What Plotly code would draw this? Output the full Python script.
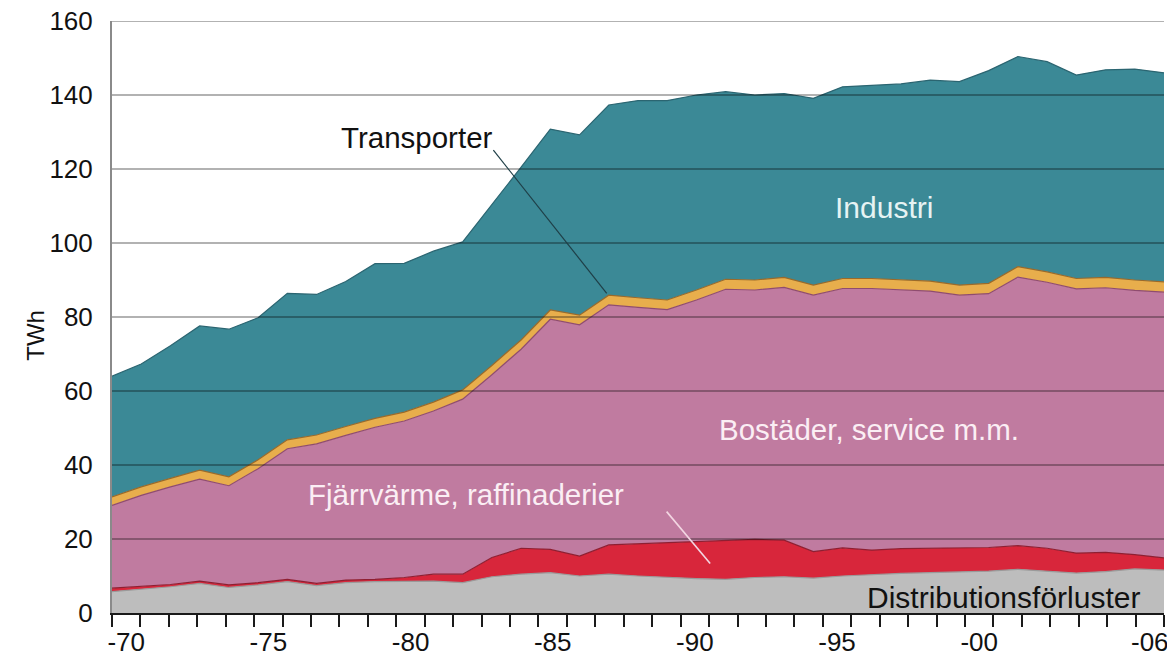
import plotly.graph_objects as go

years = list(range(1970, 2007))

distributionsforluster = [5.8, 6.4, 7.1, 8.0, 6.9, 7.6, 8.5, 7.4, 8.2, 8.5,
                          8.5, 8.6, 8.2, 9.8, 10.5, 10.9, 10.0, 10.5, 10.0, 9.6,
                          9.3, 9.1, 9.6, 9.8, 9.4, 10.0, 10.4, 10.7, 10.9, 11.1,
                          11.3, 11.8, 11.4, 10.8, 11.2, 11.9, 11.6]
fjarrvarme = [0.9, 0.7, 0.6, 0.6, 0.7, 0.6, 0.6, 0.6, 0.7, 0.6,
              1.1, 1.9, 2.3, 5.2, 7.0, 6.3, 5.4, 7.9, 8.7, 9.3,
              10.0, 10.5, 10.3, 9.9, 7.2, 7.6, 6.6, 6.7, 6.6, 6.3,
              6.4, 6.4, 6.1, 5.4, 5.2, 3.9, 3.3]
bostader = [22.4, 24.7, 26.4, 27.6, 26.8, 30.8, 35.3, 37.7, 39.1, 41.1,
            42.3, 44.1, 47.3, 49.4, 53.8, 62.2, 62.5, 64.9, 63.9, 63.1,
            65.3, 67.9, 67.4, 68.3, 69.3, 70.1, 70.7, 69.9, 69.5, 68.5,
            68.6, 72.6, 71.9, 71.4, 71.5, 71.4, 71.8]
transporter = [2.3, 2.3, 2.3, 2.4, 2.4, 2.4, 2.4, 2.4, 2.4, 2.4,
               2.4, 2.4, 2.5, 2.5, 2.5, 2.5, 2.6, 2.6, 2.6, 2.6,
               2.7, 2.7, 2.7, 2.7, 2.7, 2.7, 2.7, 2.7, 2.7, 2.7,
               2.8, 2.8, 2.8, 2.8, 2.8, 2.8, 2.8]
industri = [32.6, 33.2, 35.8, 39.0, 39.9, 38.4, 39.6, 38.0, 39.2, 41.8,
            40.2, 40.8, 40.0, 43.4, 46.7, 48.9, 48.7, 51.4, 53.3, 53.9,
            52.7, 50.7, 50.0, 49.7, 50.5, 51.8, 52.3, 53.0, 54.3, 55.0,
            57.5, 56.8, 56.8, 55.0, 56.1, 57.0, 56.5]

series_names = ["Distributionsförluster", "Fjärrvärme, raffinaderier",
                "Bostäder, service m.m.", "Transporter", "Industri"]
fill_colors = ["#bdbdbd", "#d8263b", "#c07ba0", "#e8ae4c", "#3b8996"]
line_colors = ["#9a9a9a", "#8e1f32", "#8f4c6f", "#9a6a2a", "#2b6571"]

y_ticks = [0, 20, 40, 60, 80, 100, 120, 140, 160]
x_label_years = [1970, 1975, 1980, 1985, 1990, 1995, 2000, 2006]
x_label_text = ["-70", "-75", "-80", "-85", "-90", "-95", "-00", "-06"]

FONT = "Liberation Sans, Arial, Helvetica, sans-serif"

fig = go.Figure()
for name, vals, fc, lc in zip(series_names,
                              [distributionsforluster, fjarrvarme, bostader, transporter, industri],
                              fill_colors, line_colors):
    fig.add_trace(go.Scatter(
        x=years, y=vals, name=name, mode="lines",
        stackgroup="one", fillcolor=fc,
        line=dict(color=lc, width=1.2, shape="linear"),
        hoverinfo="skip",
    ))

# year bins: the 37 years are drawn across the axis, ticks on bin edges
n_bins = len(years)
span = years[-1] - years[0]
edge_vals = [years[0] + k * span / n_bins for k in range(n_bins + 1)]
label_vals = [years[0] + (y - years[0] + 0.5) * span / n_bins for y in x_label_years]

# gridlines drawn above the areas
shapes = []
for v in y_ticks[1:]:
    shapes.append(dict(type="line", xref="paper", yref="y", x0=0, x1=1, y0=v, y1=v,
                       line=dict(color="rgba(0,0,0,0.3)", width=2), layer="above"))

# leader lines for labels
shapes.append(dict(type="line", xref="x", yref="y", x0=1983.05, y0=125.1, x1=1986.93, y1=86.4,
                   line=dict(color="#1f3f47", width=1.2), layer="above"))
shapes.append(dict(type="line", xref="x", yref="y", x0=1988.98, y0=27.4, x1=1990.47, y1=13.4,
                   line=dict(color="#f3d6e2", width=1.6), layer="above"))

annotations = [
    dict(text="Transporter", x=1980.44, y=128.6, xref="x", yref="y", showarrow=False,
         font=dict(family=FONT, size=29.5, color="#111111")),
    dict(text="Industri", x=1996.42, y=109.5, xref="x", yref="y", showarrow=False,
         font=dict(family=FONT, size=30, color="#e6f3f3")),
    dict(text="Bostäder, service m.m.", x=1995.9, y=49.5, xref="x", yref="y", showarrow=False,
         font=dict(family=FONT, size=29.5, color="#fbeef4")),
    dict(text="Fjärrvärme, raffinaderier", x=1982.13, y=31.9, xref="x", yref="y", showarrow=False,
         font=dict(family=FONT, size=29.5, color="#fbeef4")),
    dict(text="Distributionsförluster", x=2000.5, y=4.3, xref="x", yref="y", showarrow=False,
         font=dict(family=FONT, size=30, color="#111111")),
    dict(text="TWh", x=-0.073, y=75, xref="paper", yref="y", showarrow=False, textangle=-90,
         xanchor="center", yanchor="middle",
         font=dict(family=FONT, size=24, color="#111111")),
]

fig.update_layout(
    width=1175, height=656,
    margin=dict(l=104, r=19, t=13, b=51, autoexpand=False),
    paper_bgcolor="white", plot_bgcolor="white",
    showlegend=False, hovermode=False,
    shapes=shapes, annotations=annotations,
    xaxis=dict(
        range=[years[0], years[-1]], automargin=False,
        tickmode="array", tickvals=label_vals, ticktext=x_label_text,
        ticks="outside", ticklen=5, tickcolor="rgba(0,0,0,0)",
        tickfont=dict(family=FONT, size=26, color="#111111"),
        ticklabeloverflow="allow",
        showgrid=False, zeroline=False,
        showline=True, linecolor="#1a1a1a", linewidth=2,
        minor=dict(tickmode="array", tickvals=edge_vals, ticks="outside",
                   ticklen=12, tickwidth=2, tickcolor="#1a1a1a", showgrid=False),
        layer="above traces",
    ),
    yaxis=dict(
        range=[0, 160], automargin=False,
        tickmode="array", tickvals=y_ticks,
        ticks="outside", ticklen=12, tickcolor="rgba(0,0,0,0)",
        tickfont=dict(family=FONT, size=26, color="#111111"),
        ticklabeloverflow="allow",
        showgrid=False, zeroline=False,
        showline=True, linecolor="#8a8a8a", linewidth=2,
        layer="above traces",
    ),
)

fig.write_html("out.html")
